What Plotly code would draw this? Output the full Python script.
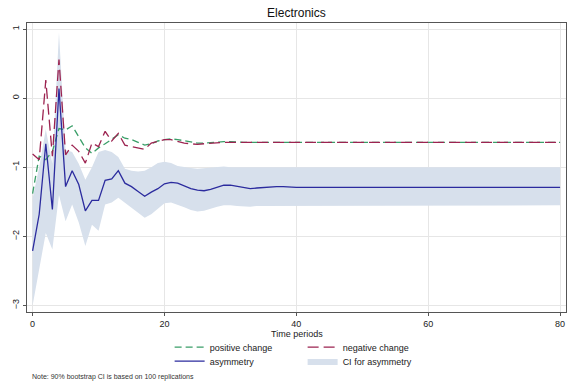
import plotly.graph_objects as go

periods = list(range(0, 81))

asymmetry = [-2.21, -1.68, -0.66, -1.61, 0.14, -1.28, -1.05, -1.25, -1.63, -1.48,
             -1.48, -1.19, -1.17, -1.05, -1.23, -1.28, -1.35, -1.42, -1.36, -1.31,
             -1.24, -1.22, -1.23, -1.27, -1.31, -1.33, -1.34, -1.32, -1.29, -1.26,
             -1.26, -1.28, -1.30, -1.31, -1.30, -1.29, -1.28, -1.28, -1.28, -1.29,
             -1.29, -1.29, -1.29, -1.29, -1.29, -1.29, -1.29, -1.29, -1.29, -1.29,
             -1.29, -1.29, -1.29, -1.29, -1.29, -1.29, -1.29, -1.29, -1.29, -1.29,
             -1.29, -1.29, -1.29, -1.29, -1.29, -1.29, -1.29, -1.29, -1.29, -1.29,
             -1.29, -1.29, -1.29, -1.29, -1.29, -1.29, -1.29, -1.29, -1.29, -1.29,
             -1.29]

ci_upper = [-1.45, -1.00, -0.45, -0.95, 0.95, -0.75, -0.78, -0.95, -1.18, -1.00,
            -0.78, -0.75, -0.78, -0.85, -1.02, -1.05, -1.06, -1.05, -1.00, -0.94,
            -0.92, -0.94, -0.98, -1.00, -1.01, -1.02, -1.01, -1.00, -0.99, -0.99,
            -1.00, -1.00, -1.00, -1.00, -1.00, -1.00, -1.00, -1.00, -1.00, -1.00,
            -1.00, -1.00, -1.00, -1.00, -1.00, -1.00, -1.00, -1.00, -1.00, -1.00,
            -1.00, -1.00, -1.00, -1.00, -1.00, -1.00, -1.00, -1.00, -1.00, -1.00,
            -1.00, -1.00, -1.00, -1.00, -1.00, -1.00, -1.00, -1.00, -1.00, -1.00,
            -1.00, -1.00, -1.00, -1.00, -1.00, -1.00, -1.00, -1.00, -1.00, -1.00,
            -1.00]

ci_lower = [-3.00, -2.50, -1.95, -2.19, -1.40, -1.78, -1.54, -1.80, -2.14, -1.83,
            -1.92, -1.54, -1.51, -1.44, -1.51, -1.58, -1.66, -1.73, -1.68, -1.60,
            -1.52, -1.51, -1.54, -1.58, -1.62, -1.64, -1.63, -1.60, -1.57, -1.55,
            -1.55, -1.56, -1.57, -1.57, -1.56, -1.55, -1.55, -1.55, -1.55, -1.55,
            -1.55, -1.55, -1.55, -1.55, -1.55, -1.55, -1.55, -1.55, -1.55, -1.55,
            -1.55, -1.55, -1.55, -1.55, -1.55, -1.55, -1.55, -1.55, -1.55, -1.55,
            -1.55, -1.55, -1.55, -1.55, -1.55, -1.55, -1.55, -1.55, -1.55, -1.55,
            -1.55, -1.55, -1.55, -1.55, -1.55, -1.55, -1.55, -1.55, -1.55, -1.55,
            -1.55]

positive_change = [-1.38, -0.84, -0.89, -0.77, -0.44, -0.46, -0.40, -0.56, -0.72, -0.80,
                   -0.72, -0.66, -0.60, -0.53, -0.58, -0.60, -0.64, -0.68, -0.66, -0.62,
                   -0.60, -0.59, -0.60, -0.62, -0.64, -0.65, -0.65, -0.64, -0.63, -0.63,
                   -0.63, -0.64, -0.64, -0.64, -0.64, -0.64, -0.64, -0.64, -0.64, -0.64,
                   -0.64, -0.64, -0.64, -0.64, -0.64, -0.64, -0.64, -0.64, -0.64, -0.64,
                   -0.64, -0.64, -0.64, -0.64, -0.64, -0.64, -0.64, -0.64, -0.64, -0.64,
                   -0.64, -0.64, -0.64, -0.64, -0.64, -0.64, -0.64, -0.64, -0.64, -0.64,
                   -0.64, -0.64, -0.64, -0.64, -0.64, -0.64, -0.64, -0.64, -0.64, -0.64,
                   -0.64]

negative_change = [-0.81, -0.89, 0.26, -0.84, 0.56, -0.82, -0.68, -0.77, -0.94, -0.65,
                   -0.70, -0.48, -0.62, -0.51, -0.68, -0.70, -0.72, -0.74, -0.65, -0.62,
                   -0.60, -0.60, -0.63, -0.65, -0.66, -0.67, -0.66, -0.65, -0.64, -0.64,
                   -0.64, -0.64, -0.64, -0.64, -0.64, -0.64, -0.64, -0.64, -0.64, -0.64,
                   -0.64, -0.64, -0.64, -0.64, -0.64, -0.64, -0.64, -0.64, -0.64, -0.64,
                   -0.64, -0.64, -0.64, -0.64, -0.64, -0.64, -0.64, -0.64, -0.64, -0.64,
                   -0.64, -0.64, -0.64, -0.64, -0.64, -0.64, -0.64, -0.64, -0.64, -0.64,
                   -0.64, -0.64, -0.64, -0.64, -0.64, -0.64, -0.64, -0.64, -0.64, -0.64,
                   -0.64]

x_ticks = [0, 20, 40, 60, 80]
y_ticks = [-3, -2, -1, 0, 1]

FONT = "Liberation Sans, Arial, sans-serif"
GREEN = "#3a9e68"
RED = "#9c2350"
BLUE = "#2b2b9e"
CI_FILL = "#d7e0ec"

fig = go.Figure()

fig.add_trace(go.Scatter(
    x=periods + periods[::-1],
    y=ci_upper + ci_lower[::-1],
    fill="toself", fillcolor=CI_FILL,
    line=dict(width=0, color=CI_FILL),
    mode="lines", name="CI for asymmetry",
    legend="legend2", legendrank=2, hoverinfo="skip",
))
fig.add_trace(go.Scatter(
    x=periods, y=positive_change, mode="lines", name="positive change",
    line=dict(color=GREEN, width=1.3, dash="7px,4px"),
    legend="legend", legendrank=1,
))
fig.add_trace(go.Scatter(
    x=periods, y=negative_change, mode="lines", name="negative change",
    line=dict(color=RED, width=1.3, dash="11px,5px"),
    legend="legend", legendrank=2,
))
fig.add_trace(go.Scatter(
    x=periods, y=asymmetry, mode="lines", name="asymmetry",
    line=dict(color=BLUE, width=1.3),
    legend="legend2", legendrank=1,
))

axis_common = dict(
    showline=True, linecolor="#555555", linewidth=1, mirror=True,
    showgrid=True, gridcolor="#e6e6e6", gridwidth=1,
    ticks="outside", ticklen=3, tickcolor="#555555",
    tickfont=dict(family=FONT, size=9, color="#222222"),
    zeroline=False,
)

legend_common = dict(
    orientation="h", xref="container", yref="container",
    xanchor="left", yanchor="middle",
    entrywidth=88, entrywidthmode="pixels", itemwidth=30,
    font=dict(family=FONT, size=9, color="#222222"),
    bgcolor="rgba(0,0,0,0)", traceorder="normal",
)

fig.update_layout(
    width=575, height=387,
    margin=dict(l=27, r=9, t=23, b=75, autoexpand=False),
    paper_bgcolor="white", plot_bgcolor="white",
    font=dict(family=FONT, color="#222222"),
    title=dict(text="Electronics", x=0.5155, xanchor="center", y=0.968, yanchor="middle",
               font=dict(family=FONT, size=12, color="#111111")),
    xaxis=dict(range=[-0.85, 80.9], tickvals=x_ticks, **axis_common),
    yaxis=dict(range=[-3.094, 1.087], tickvals=y_ticks, tickangle=-90, **axis_common),
    legend=dict(x=0.295, y=0.103, **legend_common),
    legend2=dict(x=0.295, y=0.067, **legend_common),
    annotations=[
        dict(text="Time periods", xref="paper", yref="paper", x=0.5, y=-0.075,
             xanchor="center", yanchor="middle", showarrow=False,
             font=dict(family=FONT, size=9, color="#222222")),
        dict(text="Note: 90% bootstrap CI is based on 100 replications",
             xref="paper", yref="paper", x=0.0056, y=-0.225, xanchor="left", yanchor="middle",
             showarrow=False, font=dict(family=FONT, size=7, color="#333333")),
    ],
)

fig.write_html("out.html")
